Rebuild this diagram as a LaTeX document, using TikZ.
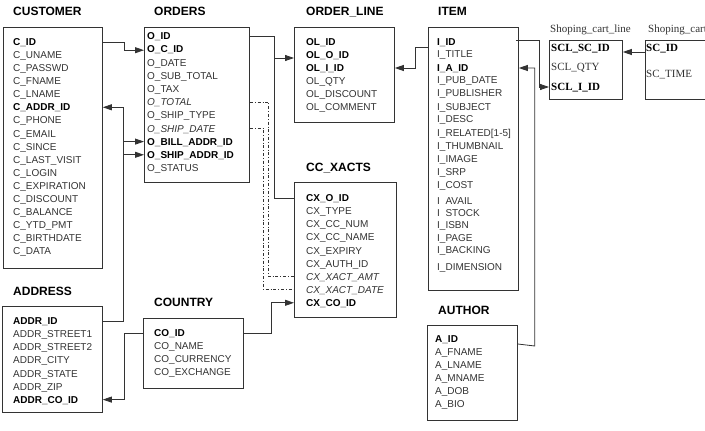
\documentclass[tikz,border=0pt]{standalone}
\usepackage{fontspec}
\setmainfont{Liberation Sans}
\newfontfamily\tmsfont{Liberation Serif}
\usetikzlibrary{arrows.meta,calc}
\definecolor{ink}{HTML}{333333}
\newcommand{\keyf}[1]{\textcolor{black}{\textbf{#1}}}

\begin{document}
\begin{tikzpicture}[x=1pt,y=-1pt,>={Triangle[length=9pt,width=6pt]},
tbl/.style={draw=ink,line width=0.8pt,anchor=north west,inner sep=0pt},
ttl/.style={anchor=west,inner sep=0pt,font=\fontsize{12}{14}\selectfont\bfseries,text height=8.6pt,text depth=0pt},
row/.style={anchor=west,inner sep=0pt,text=ink,font=\fontsize{10}{12}\selectfont,text height=7.2pt,text depth=0pt},
srow/.style={row,font=\tmsfont\fontsize{11}{13}\selectfont,text height=7.3pt},
link/.style={draw=ink,line width=0.8pt},
fk/.style={link,->},
dd/.style={link,line width=0.7pt,dash dot}]
\useasboundingbox (0,0) rectangle (705,431);
\clip (0,0) rectangle (705,431);
% tables
\node[tbl,minimum width=99pt,minimum height=241pt] (cust) at (3,27) {};
\node[ttl] (cust-t) at (13,11) {CUSTOMER};
\foreach \t [count=\i] in {\keyf{C\_ID},C\_UNAME,C\_PASSWD,C\_FNAME,C\_LNAME,\keyf{C\_ADDR\_ID},C\_PHONE,C\_EMAIL,C\_SINCE,C\_LAST\_VISIT,C\_LOGIN,C\_EXPIRATION,C\_DISCOUNT,C\_BALANCE,C\_YTD\_PMT,C\_BIRTHDATE,C\_DATA}
  {\node[row] (cu\i) at (13,{42+13.06*(\i-1)}) {\t};}
\node[tbl,minimum width=105pt,minimum height=155pt] (ord) at (144,27) {};
\node[ttl] (ord-t) at (154,11) {ORDERS};
\foreach \t [count=\i] in {\keyf{O\_ID},\keyf{O\_C\_ID},O\_DATE,O\_SUB\_TOTAL,O\_TAX,\textit{O\_TOTAL},O\_SHIP\_TYPE,\textit{O\_SHIP\_DATE},\keyf{O\_BILL\_ADDR\_ID},\keyf{O\_SHIP\_ADDR\_ID},O\_STATUS}
  {\node[row] (or\i) at (147,{36+13.2*(\i-1)}) {\t};}
\node[tbl,minimum width=100pt,minimum height=95pt] (oline) at (294,27) {};
\node[ttl] (oline-t) at (306,11) {ORDER\_LINE};
\foreach \t [count=\i] in {\keyf{OL\_ID},\keyf{OL\_O\_ID},\keyf{OL\_I\_ID},OL\_QTY,OL\_DISCOUNT,OL\_COMMENT}
  {\node[row] (ol\i) at (306,{42+13*(\i-1)}) {\t};}
\node[tbl,minimum width=90pt,minimum height=263pt] (item) at (428,27) {};
\node[ttl] (item-t) at (438,11) {ITEM};
\foreach \y/\t [count=\i] in {42/\keyf{I\_ID},54/I\_TITLE,68/\keyf{I\_A\_ID},80/I\_PUB\_DATE,93/I\_PUBLISHER,107/I\_SUBJECT,119/I\_DESC,133/I\_RELATED[1-5],146/I\_THUMBNAIL,159/I\_IMAGE,172/I\_SRP,185/I\_COST,201/I\hphantom{\_}AVAIL,213/I\hphantom{\_}STOCK,225/I\_ISBN,238/I\_PAGE,250/I\_BACKING,267/I\_DIMENSION}
  {\node[row] (it\i) at (437,\y) {\t};}
\node[tbl,minimum width=102pt,minimum height=135pt] (cxact) at (294,182) {};
\node[ttl] (cxact-t) at (306,167) {CC\_XACTS};
\foreach \t [count=\i] in {\keyf{CX\_O\_ID},CX\_TYPE,CX\_CC\_NUM,CX\_CC\_NAME,CX\_EXPIRY,CX\_AUTH\_ID,\textit{CX\_XACT\_AMT},\textit{CX\_XACT\_DATE},\keyf{CX\_CO\_ID}}
  {\node[row] (cx\i) at (306,{198+13.1*(\i-1)}) {\t};}
\node[tbl,minimum width=100pt,minimum height=106pt] (addr) at (2,306) {};
\node[ttl] (addr-t) at (13,291) {ADDRESS};
\foreach \t [count=\i] in {\keyf{ADDR\_ID},ADDR\_STREET1,ADDR\_STREET2,ADDR\_CITY,ADDR\_STATE,ADDR\_ZIP,\keyf{ADDR\_CO\_ID}}
  {\node[row] (ad\i) at (13,{321+13.1*(\i-1)}) {\t};}
\node[tbl,minimum width=100pt,minimum height=70pt] (ctry) at (143,318) {};
\node[ttl] (ctry-t) at (154,302) {COUNTRY};
\foreach \t [count=\i] in {\keyf{CO\_ID},CO\_NAME,CO\_CURRENCY,CO\_EXCHANGE}
  {\node[row] (co\i) at (154,{333+13*(\i-1)}) {\t};}
\node[tbl,minimum width=90pt,minimum height=95pt] (auth) at (427,325) {};
\node[ttl] (auth-t) at (438,310) {AUTHOR};
\foreach \t [count=\i] in {\keyf{A\_ID},A\_FNAME,A\_LNAME,A\_MNAME,A\_DOB,A\_BIO}
  {\node[row] (au\i) at (435,{339+13*(\i-1)}) {\t};}
\node[tbl,minimum width=73pt,minimum height=59pt] (scline) at (549,40) {};
\node[srow] (scline-t) at (550,29) {Shoping\_cart\_line};
\foreach \y/\t [count=\i] in {48/\keyf{SCL\_SC\_ID},67/SCL\_QTY,87/\keyf{SCL\_I\_ID}}
  {\node[srow] (sl\i) at (551,\y) {\t};}
\node[tbl,minimum width=80pt,minimum height=59pt] (scart) at (645,40) {};
\node[srow] (scart-t) at (648,29) {Shoping\_cart};
\foreach \y/\t [count=\i] in {48/\keyf{SC\_ID},74/SC\_TIME}
  {\node[srow] (sc\i) at (646,\y) {\t};}
% links
\draw[fk] (cust.east |- cu1) -- ++(22,0) |- ($(ord.west |- or2)+(0,1)$);
\coordinate (abus) at (123,0);
\draw[fk] (addr.east |- ad1) -| (abus |- cu6) -- (cust.east |- cu6);
\foreach \i in {9,10}{\draw[fk] (abus |- or\i) -- (ord.west |- or\i);}
\coordinate (obus) at (274,0);
\draw[link] (ord.east |- or1) -| (obus |- cx1) -- (cxact.west |- cx1);
\draw[fk] ($(obus |- ol2)+(0,3)$) -- ($(oline.west |- ol2)+(0,3)$);
\draw[dd] (ord.east |- or6) -- ++(19,0) |- (cxact.west |- cx7);
\draw[dd] (ord.east |- or8) -- ++(14,0) |- (cxact.west |- cx8);
\draw[fk] ($(item.west |- it1)+(0,5)$) -- ++(-13,0) |- (oline.east |- ol3);
\coordinate (ibus) at (539,0);
\draw[fk] ($(item.east |- it1)+(-3,-2)$) -| (ibus |- sl3) -- (scline.west |- sl3);
\draw[fk] ($(auth.east |- au1)+(0,5)$) -- ++(17,2) |- (item.east |- it3);
\draw[fk] ($(scart.west |- sl1)+(0,4)$) -- ($(scline.east |- sl1)+(0,4)$);
\draw[fk] (ctry.west |- co1) -- ++(-19,0) |- (addr.east |- ad7);
\draw[fk] (ctry.east |- co1) -- ++(28,0) |- (cxact.west |- cx9);
\end{tikzpicture}
\end{document}
